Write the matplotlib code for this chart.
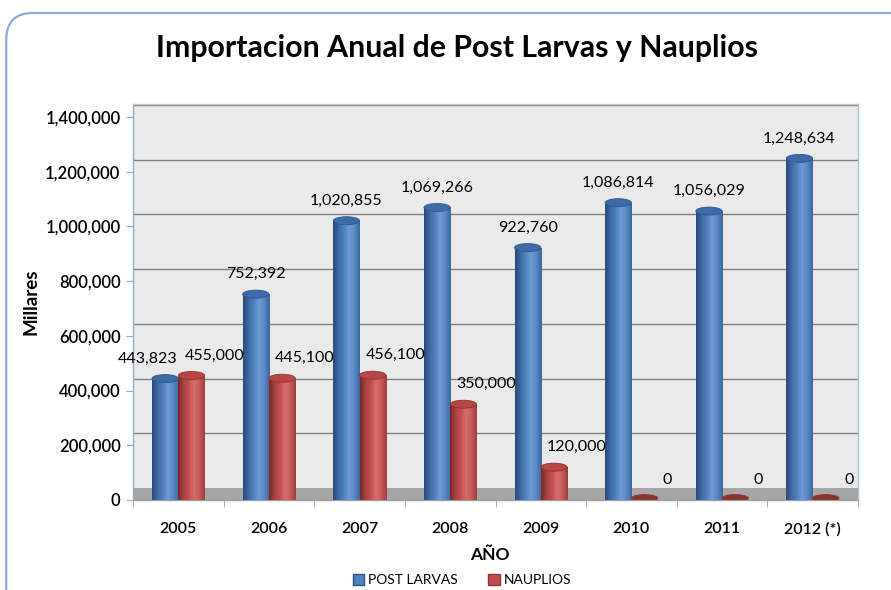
import numpy as np
import matplotlib
matplotlib.use("Agg")
import matplotlib.pyplot as plt
from matplotlib.patches import Ellipse, FancyBboxPatch, Patch
from matplotlib.colors import LinearSegmentedColormap
from matplotlib.ticker import FuncFormatter, FixedLocator

# ---- data ----
years = ["2005", "2006", "2007", "2008", "2009", "2010", "2011", "2012 (*)"]
post_larvas = [443823, 752392, 1020855, 1069266, 922760, 1086814, 1056029, 1248634]
nauplios = [455000, 445100, 456100, 350000, 120000, 0, 0, 0]
series_names = ["POST LARVAS", "NAUPLIOS"]
yticks = [0, 200000, 400000, 600000, 800000, 1000000, 1200000, 1400000]

plt.rcParams['font.family'] = ['Lato', 'DejaVu Sans']

W, H, DPI = 891, 590, 100
fig = plt.figure(figsize=(W / DPI, H / DPI), dpi=DPI)
fig.patch.set_facecolor('white')

# outer rounded frame
frame = FancyBboxPatch((0.007, -0.1), 1.1, 1.078, boxstyle="round,pad=0,rounding_size=0.03",
                       transform=fig.transFigure, facecolor='none', edgecolor='#8FAADC',
                       linewidth=1.6, zorder=0, mutation_aspect=W / H)
fig.add_artist(frame)

ax_l, ax_r = 133 / W, 858 / W
ax_b, ax_t = (H - 500) / H, (H - 104) / H
ax = fig.add_axes([ax_l, ax_b, ax_r - ax_l, ax_t - ax_b])
ymax = 1400000 * (500 - 104) / (500 - 117)
ax.set_xlim(-0.5, len(years) - 0.5)
ax.set_ylim(0, ymax)
ax.set_facecolor('#EAEAEA')

px_per_unit_y = (500 - 117) / 1400000.0
depth = 12 / px_per_unit_y  # 3D back-wall offset in data units

# floor and back-wall grid
ax.axhspan(0, depth, color='#A6A6A6', zorder=1, lw=0)
for t in yticks[1:]:
    ax.axhline(t + depth, color='#7F7F7F', lw=1.0, zorder=1)

# y axis
ax.yaxis.set_major_locator(FixedLocator(yticks))
ax.yaxis.set_major_formatter(FuncFormatter(lambda v, p: f"{int(v):,}"))
ax.tick_params(axis='y', direction='out', length=5, color='#8FAADC', labelsize=12, pad=4)
# x axis
x = np.arange(len(years))
ax.set_xticks(x)
ax.set_xticklabels(years, fontsize=11.5)
ax.xaxis.set_minor_locator(FixedLocator(np.arange(-0.5, len(years), 1.0)))
ax.tick_params(axis='x', which='major', length=0, pad=16)
ax.tick_params(axis='x', which='minor', direction='out', length=5, color='#A0A0A0')
for lab in ax.get_yticklabels() + ax.get_xticklabels():
    lab.set_fontweight('semibold')

ax.spines['left'].set_color('#8FAADC')
ax.spines['bottom'].set_color('#A0A0A0')
ax.spines['top'].set_color('#C8C8C8')
ax.spines['right'].set_color('#A8C0E0')
for s in ax.spines.values():
    s.set_linewidth(1.0)

ax.set_ylabel("Millares", fontweight='bold', fontsize=13.5, labelpad=4)
ax.set_xlabel("AÑO", fontweight='bold', fontsize=12.5)
ax.xaxis.set_label_coords((490 / W - ax_l) / (ax_r - ax_l), -(547 - 500) / (500 - 104))

bw = 0.29
blue_cmap = LinearSegmentedColormap.from_list('b', ['#2A4A75', '#3D6AA6', '#4F81BD', '#6F9BD8', '#5A88C4', '#3C66A0'])
red_cmap = LinearSegmentedColormap.from_list('r', ['#7A2A28', '#A84240', '#C0504D', '#D86E6A', '#C65A57', '#9E3E3B'])
ell_h = 8 / px_per_unit_y
grad = np.linspace(0, 1, 64).reshape(1, -1)

def cylinders(xs, vals, cmap, top_col, edge_col):
    bars = ax.bar(xs, vals, width=bw, color='none', zorder=3, lw=0)
    for b, v in zip(bars, vals):
        x0 = b.get_x()
        xc = x0 + bw / 2
        if v > 0:
            im = ax.imshow(grad, extent=(x0, x0 + bw, 0, v), cmap=cmap, aspect='auto', zorder=3,
                           interpolation='bilinear')
            im.set_clip_path(b)
            ax.add_patch(Ellipse((xc, 0), bw, ell_h, color=cmap(0.4), zorder=2.9, lw=0))
            ax.add_patch(Ellipse((xc, v), bw, ell_h, facecolor=top_col, edgecolor=edge_col,
                                 lw=0.6, zorder=4))
        else:
            ax.add_patch(Ellipse((xc, v + depth * 0.15), bw, ell_h * 0.9, facecolor=edge_col,
                                 edgecolor=edge_col, lw=0.6, zorder=4))
    return bars

xb = x - bw / 2
xr = x + bw / 2
cylinders(xb, post_larvas, blue_cmap, '#3E6CA8', '#2E558A')
cylinders(xr, nauplios, red_cmap, '#B84845', '#8E3230')
ax.set_xlim(-0.5, len(years) - 0.5)
ax.set_ylim(0, ymax)

pt = 72 / DPI
for i, v in enumerate(post_larvas):
    dx = -18 if i == 0 else 0
    ax.annotate(f"{v:,}", (xb[i], v), xytext=(dx * pt, 20 * pt), textcoords='offset points',
                ha='center', va='center', fontsize=11.5, zorder=6)
for i, v in enumerate(nauplios):
    ax.annotate(f"{v:,}", (xr[i], v), xytext=(23 * pt, 20 * pt), textcoords='offset points',
                ha='center', va='center', fontsize=11.5, zorder=6)

fig.text(457 / W, 1 - 48 / H, "Importacion Anual de Post Larvas y Nauplios", ha='center', va='center',
         fontsize=21.8, fontweight='bold')

handles = [Patch(facecolor='#4F81BD', edgecolor='#2E558A'), Patch(facecolor='#C0504D', edgecolor='#8E3230')]
fig.legend(handles, series_names, loc='center', bbox_to_anchor=(462 / W, 1 - 580 / H), ncol=2,
           frameon=False, fontsize=10, handlelength=0.8, handleheight=0.8, columnspacing=2.2,
           handletextpad=0.3)

fig.savefig("out.png", dpi=DPI)
